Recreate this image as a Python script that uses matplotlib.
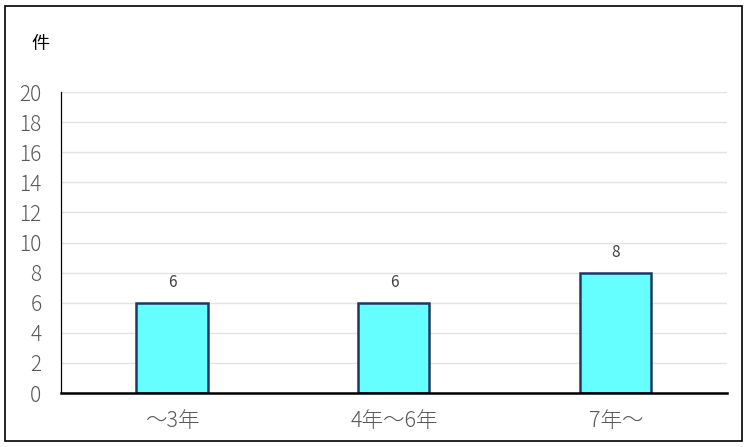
import matplotlib.pyplot as plt
from matplotlib.patches import Rectangle

plt.rcParams['font.family'] = ['Noto Sans CJK JP', 'DejaVu Sans']

categories = ['～3年', '4年～6年', '7年～']
values = [6, 6, 8]
yticks = list(range(0, 21, 2))


def main():

    fig = plt.figure(figsize = (7.47, 4.47), dpi = 100)
    ax = fig.add_axes([0.0817, 0.1208, 0.8913, 0.6732])

    x = list(range(len(categories)))
    ax.bar(x, values, width = 0.32, color = '#66FFFF', edgecolor = '#1F3864',
           linewidth = 1.8, zorder = 3)

    for xi, v in zip(x, values):
        ax.text(xi, v + 0.75, str(v), ha = 'center', va = 'bottom',
                fontsize = 11, color = '#404040')

    ax.set_xlim(-0.5, len(categories) - 0.5)
    ax.set_ylim(0, 20)
    ax.set_yticks(yticks)
    ax.set_xticks(x)
    ax.set_xticklabels(categories, fontsize = 15.5, fontweight = 'light')
    ax.set_yticklabels([str(t) for t in yticks], fontsize = 15, fontweight = 'light')
    ax.tick_params(axis = 'both', length = 0, labelcolor = '#595959')
    ax.tick_params(axis = 'y', pad = 14)
    ax.tick_params(axis = 'x', pad = 12)

    ax.grid(axis = 'y', color = '#E3E3E3', linewidth = 1.0, zorder = 0)
    for s in ['top', 'right']:
        ax.spines[s].set_visible(False)
    ax.spines['left'].set_linewidth(0.9)
    ax.spines['left'].set_color('black')
    ax.spines['bottom'].set_linewidth(1.8)
    ax.spines['bottom'].set_color('black')
    ax.spines['bottom'].set_zorder(4)

    fig.text(40 / 747, 1 - 44 / 447, '件', ha = 'center', va = 'center',
             fontsize = 13, color = 'black')

    fig.patches.append(Rectangle((5 / 747, 6 / 447), 737 / 747, 435 / 447,
                                 transform = fig.transFigure, fill = False,
                                 edgecolor = 'black', linewidth = 1.2))

    fig.savefig('out.png')


if __name__ == '__main__':
    main()
